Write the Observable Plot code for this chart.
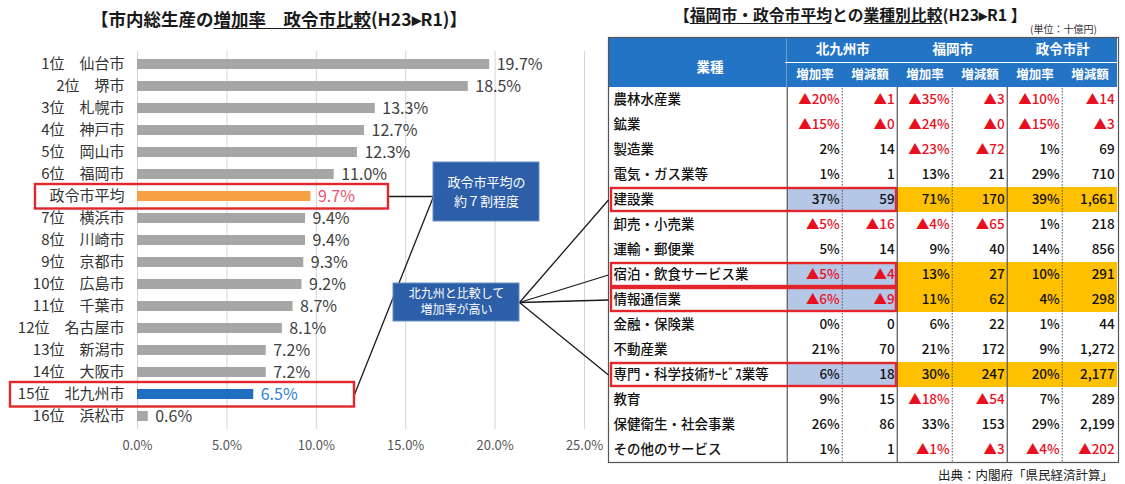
<!DOCTYPE html>
<html><head><meta charset="utf-8">
<script src="https://cdn.jsdelivr.net/npm/d3@7"></script>
<script src="https://cdn.jsdelivr.net/npm/@observablehq/plot@0.6"></script>
<style>
body{margin:0;background:#fff;}
#root{position:relative;width:1125px;height:484px;overflow:hidden;font-family:"Noto Sans CJK JP","Noto Sans",sans-serif;background:#fff;}
#root > *{position:absolute;top:0;left:0;}
.title{font-weight:700;color:#1a1a1a;white-space:nowrap;}
.u{text-decoration:underline;text-underline-offset:2px;}
.unit{font-size:10px;color:#333;white-space:nowrap;}
.src{font-size:12.5px;color:#222;white-space:nowrap;}
</style></head><body><div id="root"></div>
<script>
// ---------- data: left chart ----------
const ranks = ["1位","2位","3位","4位","5位","6位","","7位","8位","9位","10位","11位","12位","13位","14位","15位","16位"];
const cities = ["仙台市","堺市","札幌市","神戸市","岡山市","福岡市","政令市平均","横浜市","川崎市","京都市","広島市","千葉市","名古屋市","新潟市","大阪市","北九州市","浜松市"];
const growth = [19.7,18.5,13.3,12.7,12.3,11.0,9.7,9.4,9.4,9.3,9.2,8.7,8.1,7.2,7.2,6.5,0.6];
const xTicks = [0,5,10,15,20,25];
const AVG = "政令市平均", HOME = "北九州市";

// ---------- data: table ----------
const industries = ["農林水産業","鉱業","製造業","電気・ガス業等","建設業","卸売・小売業","運輸・郵便業","宿泊・飲食サービス業","情報通信業","金融・保険業","不動産業","専門・科学技術ｻｰﾋﾞｽ業等","教育","保健衛生・社会事業","その他のサービス"];
const groups = ["北九州市","福岡市","政令市計"];
const subHeads = ["増加率","増減額"];
const kitaRate = [-20,-15,2,1,37,-5,5,-5,-6,0,21,6,9,26,1];
const kitaAmt  = [-1,-0.3,14,1,59,-16,14,-4,-9,0,70,18,15,86,1];
const fukuRate = [-35,-24,-23,13,71,-4,9,13,11,6,21,30,-18,33,-1];
const fukuAmt  = [-3,-0.3,-72,21,170,-65,40,27,62,22,172,247,-54,153,-3];
const avgRate  = [-10,-15,1,29,39,1,14,10,4,1,9,20,7,29,-4];
const avgAmt   = [-14,-3,69,710,1661,218,856,291,298,44,1272,2177,289,2199,-202];
const highlighted = ["建設業","宿泊・飲食サービス業","情報通信業","専門・科学技術ｻｰﾋﾞｽ業等"];

const FONT = '"Noto Sans CJK JP","Noto Sans",sans-serif';
const RED = "#e3262b", NEG = "#e8101e", HEAD = "#2474c6", BOXBLUE = "#2d5ea8";
const root = document.getElementById("root");

// ---------- left bar chart ----------
const rowLabels = cities.map((c,i) => ranks[i] ? ranks[i] + "　" + c : c);
const rows = cities.map((c,i) => ({label: rowLabels[i], city: c, value: growth[i]}));
const barFill = d => d.city === AVG ? "#f5a043" : d.city === HOME ? "#1f6fc1" : "#a6a6a6";
const valFill = d => d.city === AVG ? "#f0506e" : d.city === HOME ? "#2f80cf" : "#404040";

const left = Plot.plot({
  width: 607, height: 484,
  marginTop: 51, marginBottom: 55, marginLeft: 137, marginRight: 23,
  style: {fontFamily: FONT, background: "transparent"},
  color: {type: "identity"},
  x: {domain: [0, 25], label: null, axis: null},
  y: {type: "band", domain: rowLabels, padding: 0, label: null, axis: null},
  marks: [
    Plot.gridX(xTicks, {stroke: "#d4d4d4", strokeOpacity: 1, strokeWidth: 1}),
    Plot.barX(rows, {x: "value", y: "label", fill: barFill, insetTop: 6, insetBottom: 6}),
    Plot.text(rows, {x: "value", y: "label", text: d => d.value.toFixed(1) + "%", dx: 7, textAnchor: "start", fill: valFill, fontSize: 16}),
    Plot.axisX({ticks: xTicks, tickSize: 0, tickPadding: 11, tickFormat: d => d.toFixed(1) + "%", fontSize: 13, fill: "#555", label: null}),
    Plot.axisY({tickSize: 0, tickPadding: 13, fontSize: 15, fill: "#333", label: null})
  ]
});
root.appendChild(left);

// ---------- table ----------
const TW = 518, TML = 178, TMR = 7, TMT = 37, TMB = 22;
const colKeys = groups.flatMap(g => subHeads.map(s => g + "|" + s));
const series = [kitaRate, kitaAmt, fukuRate, fukuAmt, avgRate, avgAmt];
const yDomain = ["h1","h2", ...industries];
const colW = (TW - TML - TMR) / colKeys.length;
const step = (484 - TMT - TMB) / yDomain.length;
const cells = industries.flatMap((ind,i) => colKeys.map((c,j) => ({row: ind, col: c, j, value: series[j][i], rate: j % 2 === 0})));
const fmt = d => (d.value < 0 ? "▲" : "") + Math.round(Math.abs(d.value)).toLocaleString("en-US") + (d.rate ? "%" : "");
const hlCells = cells.filter(d => highlighted.includes(d.row));
const headCells = ["h1","h2"].flatMap(r => colKeys.map(c => ({row: r, col: c})));

const tbl = Plot.plot({
  width: TW, height: 484,
  marginTop: TMT, marginBottom: TMB, marginLeft: TML, marginRight: TMR,
  style: {fontFamily: FONT, background: "transparent"},
  color: {type: "identity"},
  x: {type: "band", domain: colKeys, padding: 0, axis: null},
  y: {type: "band", domain: yDomain, padding: 0, axis: null},
  marks: [
    Plot.cell(hlCells, {x: "col", y: "row", fill: d => d.j < 2 ? "#b4c7e7" : "#ffc000"}),
    Plot.ruleX(colKeys.filter((c,j) => j % 2 === 0), {x: d => d, dx: -colW/2, stroke: "#555", strokeWidth: 1.2}),
    Plot.ruleX(colKeys.filter((c,j) => j % 2 === 1), {x: d => d, dx: -colW/2, stroke: "#555", strokeWidth: 1, strokeDasharray: "1.5,1.5"}),
    Plot.cell(headCells, {x: "col", y: "row", fill: HEAD}),
    Plot.cell(["h1","h2"], {x: () => colKeys[0], y: d => d, fill: HEAD, insetLeft: -TML, insetRight: colW}),
    Plot.ruleX(colKeys.filter((c,j) => j % 2 === 0).flatMap(c => [{c, r: "h1"}, {c, r: "h2"}]), {x: "c", y: "r", dx: -colW/2, stroke: "#fff", strokeWidth: 1.2}),
    Plot.ruleX(colKeys.filter((c,j) => j % 2 === 1), {x: d => d, y: () => "h2", dx: -colW/2, stroke: "#fff", strokeWidth: 0.8, strokeOpacity: 0.8}),
    Plot.ruleY(["h2"], {y: d => d, dy: -step/2, stroke: "#fff", strokeWidth: 1}),
    Plot.frame({stroke: "#555", strokeWidth: 1.2, insetLeft: -TML + 1}),
    Plot.cell(highlighted, {x: () => colKeys[0], y: d => d, fill: "none", stroke: RED, strokeWidth: 2.4, insetLeft: -TML + 2, insetRight: -colW + 1.5, insetTop: 1, insetBottom: 1}),
    Plot.text(["業種"], {frameAnchor: "top-left", dx: -TML/2, dy: step, text: d => d, fill: "#fff", fontSize: 13.5, fontWeight: 700}),
    Plot.text(groups, {x: (d,i) => colKeys[2*i], y: () => "h1", dx: colW/2, text: d => d, fill: "#fff", fontSize: 13.5, fontWeight: 700}),
    Plot.text(colKeys, {x: d => d, y: () => "h2", text: (d,i) => subHeads[i % 2], fill: "#fff", fontSize: 12.5, fontWeight: 700}),
    Plot.text(industries, {y: d => d, frameAnchor: "left", dx: -TML + 6, textAnchor: "start", text: d => d, fill: "#111", fontSize: 13.5, fontWeight: 500}),
    Plot.text(cells, {x: "col", y: "row", text: fmt, textAnchor: "end", dx: colW/2 - 3, fill: d => d.value < 0 ? NEG : "#111", fontSize: 13.5, fontWeight: 500})
  ]
});
tbl.style.left = "607px";
root.appendChild(tbl);

// ---------- annotations (positions anchored to the plots' scales) ----------
const yl = left.scale("y"), yt = tbl.scale("y");
const cy = (s, v) => s.apply(v) + s.bandwidth / 2;
const avgLabel = rowLabels[cities.indexOf(AVG)], homeLabel = rowLabels[cities.indexOf(HOME)];
const avgC = cy(yl, avgLabel), homeC = cy(yl, homeLabel);
const TABLE_X = 607;
const box1 = {x1: 433, x2: 539, y1: 162, y2: 221, lines: ["政令市平均の", "約７割程度"], fs: 13, gap: 19};
const box2 = {x1: 393, x2: 519, y1: 283, y2: 321, lines: ["北九州と比較して", "増加率が高い"], fs: 12, gap: 16};
const boxLines = [box1, box2].flatMap(b => b.lines.map((t,k) => ({t, fs: b.fs, x: (b.x1 + b.x2) / 2, y: (b.y1 + b.y2) / 2 + (k - 0.5) * b.gap})));
const leftBoxes = [{x1: 35, x2: 388, label: avgLabel}, {x1: 10, x2: 354, label: homeLabel}]
  .map(b => ({...b, y1: yl.apply(b.label) - 1, y2: yl.apply(b.label) + yl.bandwidth + 1.5}));
const b2c = (box2.y1 + box2.y2) / 2;
const links = [
  {x1: 388, y1: avgC, x2: box1.x1, y2: avgC},
  {x1: box1.x1, y1: avgC, x2: 354, y2: homeC},
  ...highlighted.map(r => ({x1: box2.x2, y1: b2c, x2: TABLE_X + 1, y2: cy(yt, r)}))
];
const overlay = Plot.plot({
  width: 1125, height: 484, margin: 0,
  style: {fontFamily: FONT, background: "transparent"},
  x: {type: "identity", axis: null}, y: {type: "identity", axis: null},
  marks: [
    Plot.link(links, {x1: "x1", y1: "y1", x2: "x2", y2: "y2", stroke: "#1a1a1a", strokeWidth: 1.3}),
    Plot.rect(leftBoxes, {x1: "x1", x2: "x2", y1: "y1", y2: "y2", fill: "none", stroke: RED, strokeWidth: 2.4}),
    Plot.rect([box1, box2], {x1: "x1", x2: "x2", y1: "y1", y2: "y2", fill: BOXBLUE, stroke: "#6b8fc6", strokeWidth: 1}),
    Plot.text(boxLines, {x: "x", y: "y", text: "t", fill: "#fff", fontSize: d => d.fs})
  ]
});
overlay.style.pointerEvents = "none";
root.appendChild(overlay);

// ---------- titles & caption ----------
function addDiv(html, cls, css) {
  const d = document.createElement("div");
  d.className = cls; d.innerHTML = html; Object.assign(d.style, css); root.appendChild(d);
}
addDiv('【市内総生産の<span class="u">増加率　政令市比較</span>(H23▸R1)】', "title", {left: "91px", top: "6px", fontSize: "17.5px"});
addDiv('【<span class="u">福岡市・政令市平均</span>との<span class="u">業種別比較</span>(H23▸R1 】', "title", {left: "674px", top: "3px", fontSize: "15.8px"});
addDiv('(単位：十億円)', "unit", {left: "1030px", top: "21px"});
addDiv('出典：内閣府「県民経済計算」', "src", {left: "938px", top: "465px"});
</script></body></html>
